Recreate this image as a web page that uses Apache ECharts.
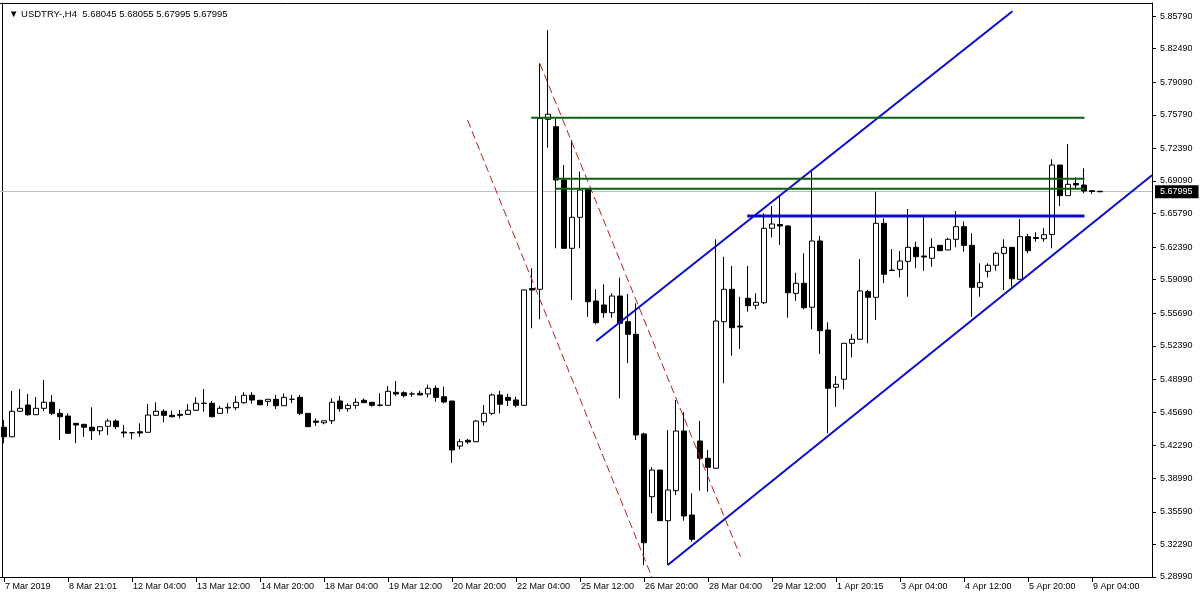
<!DOCTYPE html>
<html>
<head>
<meta charset="utf-8">
<script src="https://cdn.jsdelivr.net/npm/echarts@6/dist/echarts.min.js"></script>
<style>html,body{margin:0;padding:0;background:#fff;}#c{width:1200px;height:600px;}</style>
</head>
<body>
<div id="c"></div>
<script>
// ---------- data ----------
const symbolTitle = 'USDTRY-,H4';
const lastQuote = ['5.68045', '5.68055', '5.67995', '5.67995'];
const currentPrice = 5.67995;

const opens = [5.4415,5.4319,5.4577,5.4640,5.4542,5.4607,5.4668,5.4556,5.4529,5.4455,
5.4445,5.4415,5.4380,5.4425,5.4478,5.4367,5.4360,5.4370,5.4364,5.4536,
5.4577,5.4536,5.4546,5.4546,5.4587,5.4658,5.4658,5.4556,5.4610,5.4613,
5.4664,5.4739,5.4688,5.4678,5.4698,5.4633,5.4698,5.4718,5.4556,5.4478,
5.4461,5.4481,5.4681,5.4603,5.4637,5.4688,5.4668,5.4640,5.4637,5.4769,
5.4765,5.4752,5.4759,5.4752,5.4810,5.4724,5.4681,5.4225,5.4283,5.4269,
5.4471,5.4556,5.4742,5.4718,5.4691,5.4637,5.5820,5.5812,5.7533,5.7458,
5.6919,5.6227,5.6541,5.6824,5.5693,5.5653,5.5575,5.5744,5.5484,5.5356,
5.4347,5.3712,5.3982,5.3469,5.3773,5.4377,5.3527,5.4276,5.4101,5.4000,
5.5484,5.5812,5.5440,5.5721,5.5650,5.5676,5.6430,5.6468,5.6453,5.5771,
5.5873,5.5630,5.6301,5.5400,5.4820,5.4901,5.5265,5.5306,5.5788,5.5731,
5.6480,5.6007,5.6014,5.6095,5.6237,5.6149,5.6126,5.6257,5.6210,5.6318,
5.6446,5.6257,5.5832,5.5994,5.6055,5.6176,5.6237,5.5913,5.6345,5.6336,
5.6324,5.6367,5.7070,5.6760,5.6883,5.6868,5.6810,5.68045];

const closes = [5.4319,5.4577,5.4607,5.4542,5.4607,5.4668,5.4556,5.4522,5.4354,5.4438,
5.4415,5.4380,5.4421,5.4478,5.4421,5.4357,5.4360,5.4357,5.4539,5.4577,
5.4536,5.4522,5.4536,5.4587,5.4658,5.4657,5.4522,5.4607,5.4617,5.4668,
5.4739,5.4691,5.4643,5.4698,5.4633,5.4718,5.4698,5.4556,5.4421,5.4465,
5.4481,5.4668,5.4603,5.4637,5.4668,5.4664,5.4637,5.4637,5.4779,5.4752,
5.4735,5.4752,5.4742,5.4810,5.4718,5.4671,5.4185,5.4269,5.4266,5.4478,
5.4556,5.4742,5.4648,5.4688,5.4637,5.5805,5.5805,5.7543,5.7584,5.6919,
5.6227,5.6541,5.6817,5.5686,5.5474,5.5575,5.5744,5.5468,5.5356,5.4337,
5.3246,5.3982,5.3469,5.3780,5.4377,5.3517,5.3281,5.4101,5.4010,5.5491,
5.5812,5.5423,5.5430,5.5646,5.5680,5.6430,5.6473,5.6453,5.5777,5.5873,
5.5626,5.6301,5.5393,5.4810,5.4850,5.5265,5.5306,5.5795,5.5731,5.6480,
5.5964,5.6002,5.6098,5.6237,5.6142,5.6139,5.6237,5.6203,5.6318,5.6446,
5.6257,5.5832,5.5879,5.6055,5.6176,5.6237,5.5919,5.6345,5.6203,5.6326,
5.6365,5.7070,5.6760,5.6875,5.6868,5.6807,5.6802,5.67995];

const highs = [5.4489,5.4782,5.4802,5.4752,5.4721,5.4894,5.4742,5.4600,5.4556,5.4455,
5.4445,5.4617,5.4428,5.4502,5.4496,5.4438,5.4367,5.4455,5.4651,5.4668,
5.4597,5.4583,5.4590,5.4648,5.4718,5.4802,5.4681,5.4630,5.4658,5.4732,
5.4769,5.4769,5.4688,5.4698,5.4742,5.4759,5.4742,5.4742,5.4556,5.4506,
5.4481,5.4708,5.4732,5.4658,5.4708,5.4708,5.4668,5.4759,5.4833,5.4883,
5.4779,5.4775,5.4785,5.4846,5.4840,5.4826,5.4681,5.4296,5.4296,5.4489,
5.4640,5.4759,5.4785,5.4752,5.4724,5.5812,5.6025,5.8100,5.8437,5.7543,
5.7070,5.7324,5.7003,5.6824,5.5812,5.5862,5.5771,5.5929,5.5764,5.5670,
5.4360,5.4010,5.3982,5.4387,5.4691,5.4567,5.3746,5.4481,5.4185,5.6318,
5.6142,5.6048,5.5737,5.6048,5.5771,5.6581,5.6655,5.6749,5.6463,5.5980,
5.6176,5.7003,5.6352,5.5478,5.4934,5.5265,5.5359,5.6119,5.5805,5.6800,
5.6531,5.6220,5.6200,5.6625,5.6294,5.6541,5.6328,5.6257,5.6334,5.6605,
5.6496,5.6379,5.6075,5.6075,5.6193,5.6318,5.6237,5.6524,5.6372,5.6389,
5.6430,5.7128,5.7070,5.7283,5.6946,5.7037,5.6810,5.68055];

const lows = [5.4253,5.4313,5.4573,5.4532,5.4539,5.4577,5.4539,5.4286,5.4354,5.4253,
5.4319,5.4286,5.4334,5.4334,5.4397,5.4313,5.4293,5.4319,5.4364,5.4529,
5.4465,5.4516,5.4506,5.4539,5.4580,5.4573,5.4516,5.4556,5.4556,5.4590,
5.4654,5.4654,5.4637,5.4630,5.4600,5.4633,5.4658,5.4539,5.4421,5.4428,
5.4445,5.4448,5.4573,5.4573,5.4603,5.4664,5.4623,5.4625,5.4637,5.4732,
5.4718,5.4724,5.4742,5.4718,5.4674,5.4658,5.4056,5.4192,5.4246,5.4263,
5.4431,5.4539,5.4556,5.4630,5.4617,5.4630,5.5417,5.5508,5.7246,5.6227,
5.6227,5.5704,5.6227,5.5534,5.5458,5.5524,5.5524,5.4708,5.5063,5.4286,
5.3020,5.3544,5.3469,5.3020,5.3729,5.3469,5.3256,5.3773,5.3763,5.3998,
5.4860,5.5140,5.5207,5.5585,5.5609,5.5663,5.6338,5.6260,5.5524,5.5696,
5.5609,5.5407,5.5157,5.4354,5.4623,5.4799,5.5123,5.5306,5.5265,5.5501,
5.5873,5.5997,5.5933,5.5737,5.6025,5.6000,5.6041,5.6203,5.6210,5.6237,
5.6193,5.5534,5.5737,5.5933,5.6000,5.5805,5.5838,5.5913,5.6176,5.6294,
5.6294,5.6227,5.6655,5.6760,5.6835,5.6784,5.6777,5.67995];

// time-axis tick labels, one every 8 bars (H4)
const tickLabels = ['7 Mar 2019','8 Mar 21:01','12 Mar 04:00','13 Mar 12:00','14 Mar 20:00','18 Mar 04:00',
  '19 Mar 12:00','20 Mar 20:00','22 Mar 04:00','25 Mar 12:00','26 Mar 20:00','28 Mar 04:00',
  '29 Mar 12:00','1 Apr 20:15','3 Apr 04:00','4 Apr 12:00','5 Apr 20:00','9 Apr 04:00'];
const barsPerLabel = 8;
const shiftBars = 6; // empty space on the right of the last bar

// price-axis tick labels
const yTicks = [5.85790,5.82490,5.79090,5.75790,5.72390,5.69090,5.65790,5.62390,5.59090,
  5.55690,5.52390,5.48990,5.45690,5.42290,5.38990,5.35590,5.32290,5.28990];
const yMin = 5.28990, yMax = 5.87108;

// drawn objects: [bar index, price]
const redChannelA = [[66.97, 5.8100], [92.06, 5.3105]];
const redChannelB = [[57.94, 5.7526], [81.03, 5.2889]];
const blueUpper = [[74.03, 5.5289], [126.06, 5.8627]];
const blueLower = [[82.97, 5.3021], [143.5, 5.6967]];
const blueLevel = [[92.9, 5.6555], [135.06, 5.6555]];
const greenLevel1 = [[65.9, 5.7549], [135.06, 5.7549]];
const greenLevel2 = [[68.9, 5.6932], [135.06, 5.6932]];
const greenLevel3 = [[68.9, 5.6831], [135.06, 5.6831]];

// ---------- chart ----------
const FONT = '"Liberation Sans", Arial, sans-serif';
const n = opens.length;
const slots = n + shiftBars;
const cats = Array.from({length: slots}, (_, i) => String(i));
const candleData = opens.map((o, i) => [o, closes[i], lows[i], highs[i]]);

function seg(name, pts, color, width, type) {
  return {
    name: name, type: 'line', xAxisIndex: 1, yAxisIndex: 0, data: pts,
    symbol: 'none', silent: true, clip: true, z: 4,
    lineStyle: {color: color, width: width, type: type || 'solid'}
  };
}

const chart = echarts.init(document.getElementById('c'), null, {renderer: 'canvas'});
chart.setOption({
  animation: false,
  backgroundColor: '#ffffff',
  title: {
    text: '\u25BC ' + symbolTitle + '  ' + lastQuote.join(' '),
    left: 4, top: 4,
    textStyle: {fontSize: 9.5, fontWeight: 'normal', color: '#000', fontFamily: FONT}
  },
  grid: {left: 0, right: 48, top: 3, bottom: 23, containLabel: false},
  xAxis: [
    {
      type: 'category', data: cats, boundaryGap: true,
      axisLine: {onZero: false, lineStyle: {color: '#000', width: 1}},
      axisTick: {show: true, interval: barsPerLabel - 1, alignWithLabel: true, length: 5, lineStyle: {color: '#000'}},
      axisLabel: {
        interval: barsPerLabel - 1,
        formatter: function (v) {
          const i = parseInt(v, 10);
          return (i % barsPerLabel === 0 && tickLabels[i / barsPerLabel]) ? tickLabels[i / barsPerLabel] : '';
        },
        align: 'left', color: '#000', fontSize: 9, fontFamily: FONT, margin: 5, padding: [0, 0, 0, 1]
      },
      splitLine: {show: false}
    },
    {
      type: 'value', min: -0.5, max: slots - 0.5, position: 'top',
      axisLine: {show: true, onZero: false, lineStyle: {color: '#000'}},
      axisTick: {show: false}, axisLabel: {show: false}, splitLine: {show: false}
    }
  ],
  yAxis: [
    {
      type: 'value', position: 'right', min: yMin, max: yMax, scale: true,
      axisLine: {show: true, onZero: false, lineStyle: {color: '#000'}},
      axisTick: {show: true, customValues: yTicks, length: 4, lineStyle: {color: '#000'}},
      axisLabel: {customValues: yTicks, formatter: v => v.toFixed(5), color: '#000', fontSize: 9, fontFamily: FONT, margin: 8},
      splitLine: {show: false}
    },
    {
      type: 'value', position: 'left', offset: -2, min: yMin, max: yMax, scale: true,
      axisLine: {show: true, onZero: false, lineStyle: {color: '#000'}},
      axisTick: {show: false}, axisLabel: {show: false}, splitLine: {show: false}
    }
  ],
  series: [
    {
      type: 'candlestick', xAxisIndex: 0, yAxisIndex: 0, data: candleData, barWidth: 5, z: 3,
      itemStyle: {color: '#ffffff', color0: '#000000', borderColor: '#000000', borderColor0: '#000000', borderColorDoji: '#000000', borderWidth: 1},
      markLine: {
        silent: true, symbol: ['none', 'none'], z: 2,
        data: [{yAxis: currentPrice}],
        lineStyle: {color: '#c0c0c0', type: 'solid', width: 1},
        label: {
          show: true, position: 'end', distance: 3,
          formatter: currentPrice.toFixed(5),
          backgroundColor: '#000', color: '#fff', padding: [2, 6, 2, 5],
          fontSize: 9, fontFamily: FONT
        }
      }
    },
    seg('redA', redChannelA, '#b82020', 1, [8, 4]),
    seg('redB', redChannelB, '#b82020', 1, [8, 4]),
    seg('blueUpper', blueUpper, '#0a0acd', 2),
    seg('blueLower', blueLower, '#0a0acd', 2),
    seg('blueLevel', blueLevel, '#0a0acd', 3),
    seg('green1', greenLevel1, '#0b6010', 2),
    seg('green2', greenLevel2, '#0b6010', 2),
    seg('green3', greenLevel3, '#0b6010', 2)
  ]
});
</script>
</body>
</html>
